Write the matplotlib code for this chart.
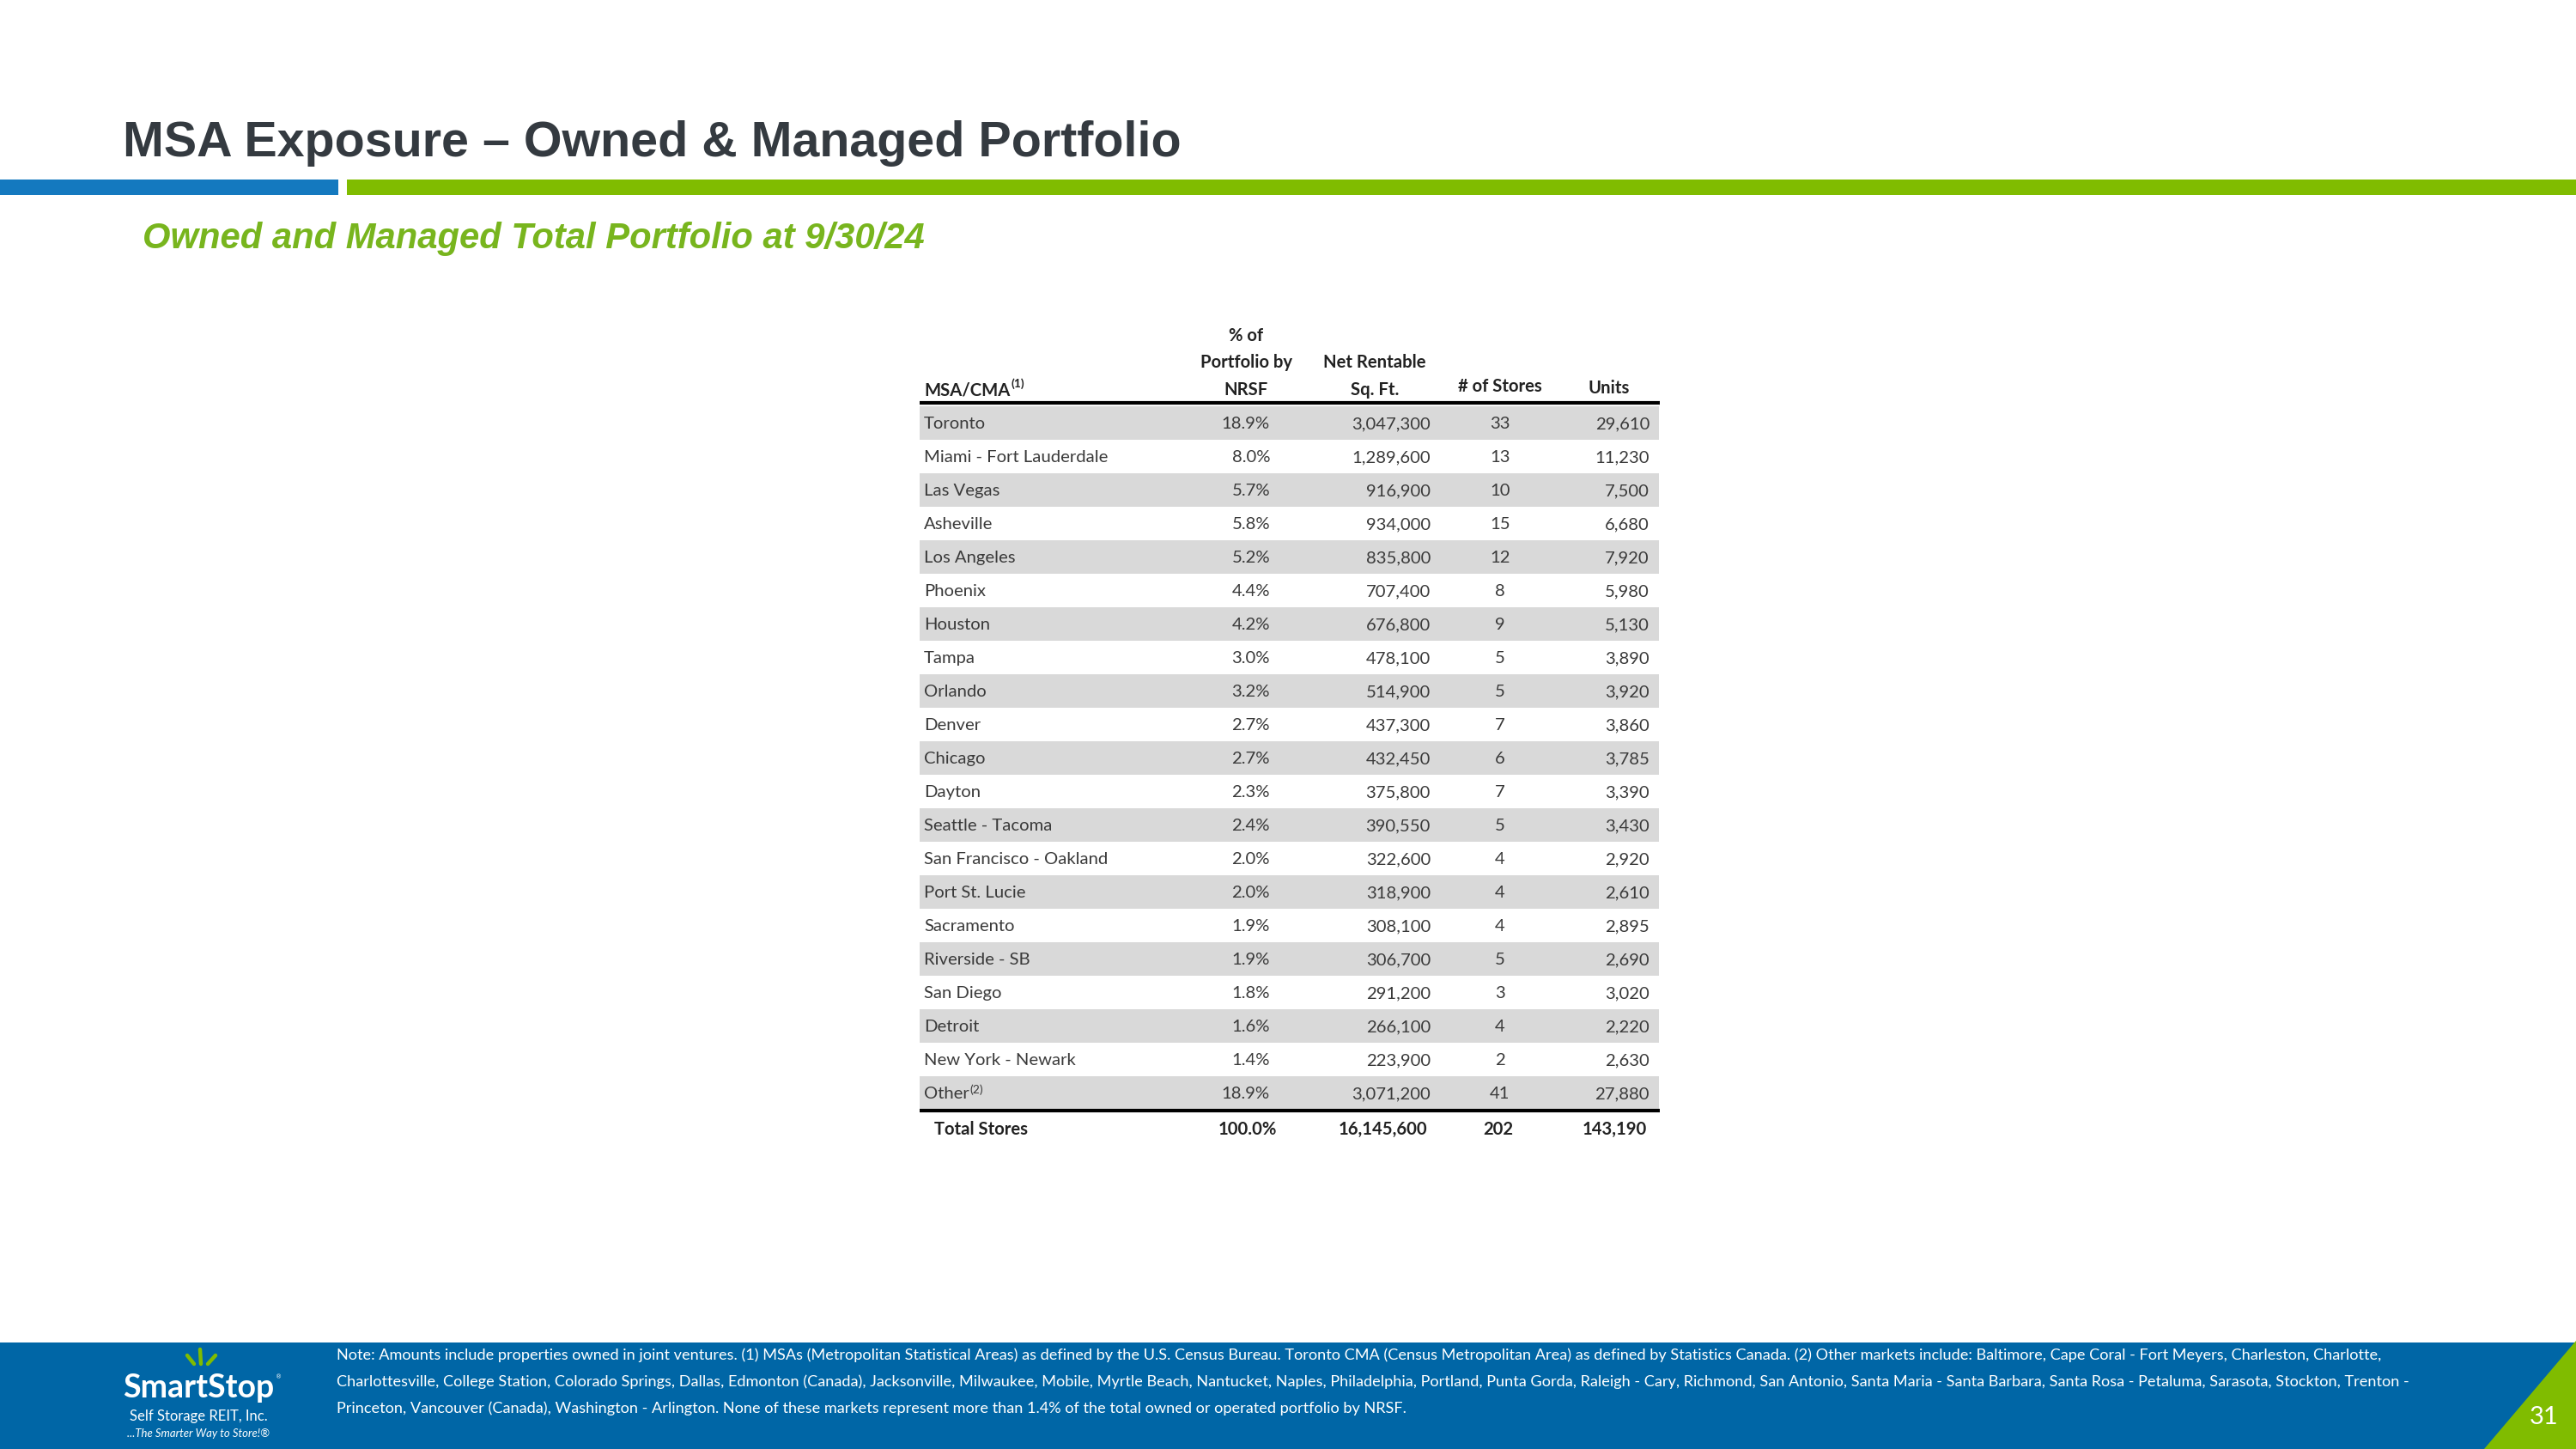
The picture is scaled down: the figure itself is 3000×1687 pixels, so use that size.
import matplotlib
matplotlib.use("Agg")
import matplotlib.pyplot as plt
from matplotlib.patches import Rectangle, Polygon

# ---------------- data ----------------
markets = ["Toronto", "Miami - Fort Lauderdale", "Las Vegas", "Asheville", "Los Angeles",
           "Phoenix", "Houston", "Tampa", "Orlando", "Denver", "Chicago", "Dayton",
           "Seattle - Tacoma", "San Francisco - Oakland", "Port St. Lucie", "Sacramento",
           "Riverside - SB", "San Diego", "Detroit", "New York - Newark", "Other"]
pct_nrsf = [18.9, 8.0, 5.7, 5.8, 5.2, 4.4, 4.2, 3.0, 3.2, 2.7, 2.7, 2.3, 2.4, 2.0, 2.0,
            1.9, 1.9, 1.8, 1.6, 1.4, 18.9]
nrsf = [3047300, 1289600, 916900, 934000, 835800, 707400, 676800, 478100, 514900, 437300,
        432450, 375800, 390550, 322600, 318900, 308100, 306700, 291200, 266100, 223900,
        3071200]
stores = [33, 13, 10, 15, 12, 8, 9, 5, 5, 7, 6, 7, 5, 4, 4, 4, 5, 3, 4, 2, 41]
units = [29610, 11230, 7500, 6680, 7920, 5980, 5130, 3890, 3920, 3860, 3785, 3390, 3430,
         2920, 2610, 2895, 2690, 3020, 2220, 2630, 27880]
total_label = "Total Stores"
total_pct = 100.0
total_nrsf = 16145600
total_stores = 202
total_units = 143190

title = "MSA Exposure \u2013 Owned & Managed Portfolio"
subtitle = "Owned and Managed Total Portfolio at 9/30/24"
footnote_lines = [
    "Note: Amounts include properties owned in joint ventures. (1) MSAs (Metropolitan Statistical Areas) as defined by the U.S. Census Bureau. Toronto CMA (Census Metropolitan Area) as defined by Statistics Canada. (2) Other markets include: Baltimore, Cape Coral - Fort Meyers, Charleston, Charlotte,",
    "Charlottesville, College Station, Colorado Springs, Dallas, Edmonton (Canada), Jacksonville, Milwaukee, Mobile, Myrtle Beach, Nantucket, Naples, Philadelphia, Portland, Punta Gorda, Raleigh - Cary, Richmond, San Antonio, Santa Maria - Santa Barbara, Santa Rosa - Petaluma, Sarasota, Stockton, Trenton -",
    "Princeton, Vancouver (Canada), Washington - Arlington. None of these markets represent more than 1.4% of the total owned or operated portfolio by NRSF.",
]
page_number = "31"

# ---------------- styles ----------------
W, H = 3000, 1687
DPI = 100
BLUE_BAR = "#1479bf"
GREEN = "#80bc00"
SUB_GREEN = "#78b51e"
FOOT_BLUE = "#0066a6"
TITLE_COL = "#343a40"
SHADE = "#d9d9d9"
BODY_COL = "#3a3a3a"
HEAD_COL = "#222222"
TFONT = "Lato"

fig = plt.figure(figsize=(W / DPI, H / DPI), dpi=DPI)
fig.patch.set_facecolor("white")
renderer = fig.canvas.get_renderer()


def fit_width(t, target_px):
    w = t.get_window_extent(renderer).width
    t.set_fontsize(t.get_fontsize() * target_px / w)
    return t


# background axes in pixel coordinates
bg = fig.add_axes([0, 0, 1, 1])
bg.set_xlim(0, W)
bg.set_ylim(H, 0)
bg.axis("off")

# title + bars
t = bg.text(143, 182, title, fontsize=40, fontweight="bold", family="Liberation Sans",
            color=TITLE_COL, ha="left", va="baseline")
fit_width(t, 1230)
bg.add_patch(Rectangle((0, 209), 394, 18, color=BLUE_BAR, lw=0))
bg.add_patch(Rectangle((404, 209), W - 404, 18, color=GREEN, lw=0))

st = bg.text(166, 289, subtitle, fontsize=27, fontweight="bold", style="italic",
             family="Liberation Sans", color=SUB_GREEN, ha="left", va="baseline")
fit_width(st, 909)

# footer
bg.add_patch(Rectangle((0, 1563), W, H - 1563, color=FOOT_BLUE, lw=0))
bg.add_patch(Polygon([(2893, H), (W, 1561), (W, H)], closed=True, color=GREEN, lw=0))
bg.text(2963, 1650, page_number, fontsize=21, color="white", family=TFONT,
        ha="center", va="center")

fy = [1578, 1609, 1640]
ft0 = bg.text(392, fy[0], footnote_lines[0], fontsize=13, color="white", family=TFONT,
              ha="left", va="center")
fit_width(ft0, 2373)
fsz = ft0.get_fontsize()
for line, y in zip(footnote_lines[1:], fy[1:]):
    bg.text(392, y, line, fontsize=fsz, color="white", family=TFONT, ha="left", va="center")

# logo
for (x0, y0, x1, y1) in [(226, 1588, 218, 1578), (234, 1588, 233, 1571), (242, 1588, 251, 1578)]:
    bg.plot([x0, x1], [y0, y1], color=GREEN, lw=3.2, solid_capstyle="round")
lg = bg.text(231, 1627, "SmartStop", fontsize=30, fontweight="bold", family=TFONT,
             color="white", ha="center", va="baseline")
fit_width(lg, 176)
bg.text(321, 1603, "\u00ae", fontsize=5, color="white", family="DejaVu Sans",
        ha="left", va="center")
l2 = bg.text(231, 1654, "Self Storage REIT, Inc.", fontsize=12, family=TFONT,
             color="white", ha="center", va="baseline")
fit_width(l2, 160)
l3 = bg.text(231, 1673, "...The Smarter Way to Store!\u00ae", fontsize=9, style="italic",
             family=TFONT, color="white", ha="center", va="baseline")
fit_width(l3, 166)

# ---------------- table axes ----------------
x_left, x_right = 1071, 1933
row0_px, pitch = 492, 39.0
y_top_row, y_bot_row = -3.5, 22.0
top_px = row0_px + y_top_row * pitch
bot_px = row0_px + y_bot_row * pitch
ax = fig.add_axes([x_left / W, 1 - bot_px / H, (x_right - x_left) / W, (bot_px - top_px) / H])
ax.set_xlim(x_left, x_right)
ax.set_ylim(y_bot_row, y_top_row)
ax.axis("off")

col_name_x = 1076
col_pct_x = 1479
col_nrsf_x = 1666
col_stores_x = 1747
col_units_x = 1921

n = len(markets)
for i in range(n):
    if i % 2 == 0:
        ax.add_patch(Rectangle((x_left, i - 0.5), x_right - x_left - 1, 1.0,
                               color=SHADE, lw=0, zorder=0))

BFS = 14.6
base_off = 0.18
for i, name in enumerate(markets):
    yb = i + base_off
    tn = ax.text(col_name_x, yb, name, fontsize=BFS, family=TFONT, color=BODY_COL,
                 ha="left", va="baseline")
    if name == "Other":
        ax.annotate("(2)", xy=(1, 1), xycoords=tn, xytext=(0.5, 2), textcoords="offset points",
                    fontsize=10, family=TFONT, color=BODY_COL, ha="left", va="top")
    ax.text(col_pct_x, yb, f"{pct_nrsf[i]:.1f}%", fontsize=BFS, family=TFONT,
            color=BODY_COL, ha="right", va="baseline")
    ax.text(col_nrsf_x, yb, f"{nrsf[i]:,}", fontsize=BFS, family=TFONT,
            color=BODY_COL, ha="right", va="baseline")
    ax.text(col_stores_x, yb, f"{stores[i]}", fontsize=BFS, family=TFONT,
            color=BODY_COL, ha="center", va="baseline")
    ax.text(col_units_x, yb, f"{units[i]:,}", fontsize=BFS, family=TFONT,
            color=BODY_COL, ha="right", va="baseline")

# header
hkw = dict(fontsize=BFS, family=TFONT, fontweight="bold", color=HEAD_COL, va="baseline")
hm = ax.text(col_name_x, -0.82, "MSA/CMA", ha="left", **hkw)
ax.annotate("(1)", xy=(1, 1), xycoords=hm, xytext=(0.5, 3), textcoords="offset points",
            fontsize=10, family=TFONT, fontweight="bold", color=HEAD_COL, ha="left", va="top")
ax.text(1451, -2.44, "% of", ha="center", **hkw)
ax.text(1451, -1.63, "Portfolio by", ha="center", **hkw)
ax.text(1451, -0.82, "NRSF", ha="center", **hkw)
ax.text(1601, -1.63, "Net Rentable", ha="center", **hkw)
ax.text(1601, -0.82, "Sq. Ft.", ha="center", **hkw)
ax.text(1747, -0.93, "# of Stores", ha="center", **hkw)
ax.text(1874, -0.86, "Units", ha="center", **hkw)

# rules
ax.plot([x_left, x_right], [-0.59, -0.59], color="black", lw=3.0, solid_capstyle="butt")
ax.plot([x_left, x_right], [n - 0.47, n - 0.47], color="black", lw=3.0, solid_capstyle="butt")

# total row
yt = n + 0.26
tkw = dict(fontsize=BFS, family=TFONT, fontweight="bold", color=HEAD_COL, va="baseline")
ax.text(1088, yt, total_label, ha="left", **tkw)
ax.text(1487, yt, f"{total_pct:.1f}%", ha="right", **tkw)
ax.text(1662, yt, f"{total_nrsf:,}", ha="right", **tkw)
ax.text(1745, yt, f"{total_stores}", ha="center", **tkw)
ax.text(1918, yt, f"{total_units:,}", ha="right", **tkw)

fig.savefig("out.png", dpi=DPI)
